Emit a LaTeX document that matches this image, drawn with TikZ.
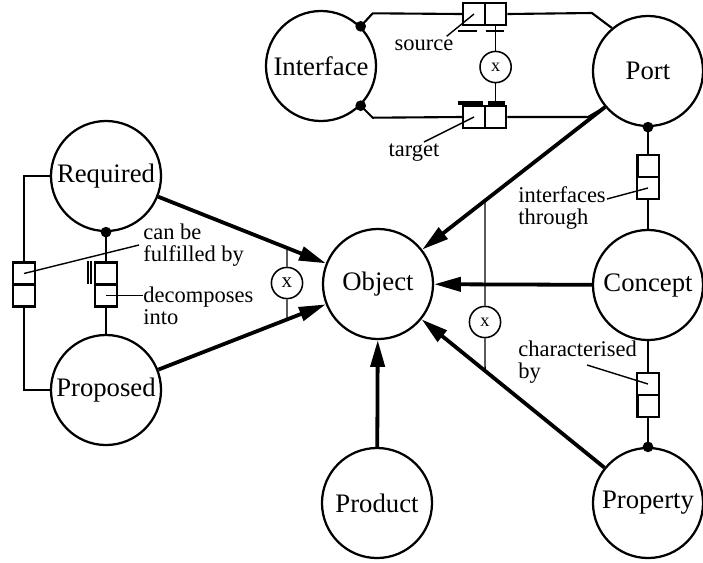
\documentclass[tikz,border=0pt]{standalone}
\usepackage{fontspec}
\setmainfont{Liberation Serif}
\usetikzlibrary{arrows.meta,calc}

\begin{document}
\begin{tikzpicture}[x=0.025cm,y=-0.025cm,
    entity/.style={circle, draw, line width=1.6pt, minimum size=2.75cm, inner sep=0pt, font=\fontsize{19}{20}\selectfont},
    isa/.style={line width=2.7pt, -{Triangle[length=19pt,width=10pt]}},
    rel/.style={line width=1.5pt},
    ptr/.style={line width=1pt},
    relbox/.style={rectangle, draw, line width=1.5pt, minimum width=0.54cm, minimum height=0.55cm, inner sep=0pt},
    excl/.style={circle, draw, line width=1.1pt, minimum size=0.78cm, inner sep=0pt, font=\fontsize{15}{15}\selectfont},
    note/.style={font=\fontsize{16}{15.5}\selectfont, align=left, inner sep=0pt}]
        \useasboundingbox (0,0) rectangle (703,562);

        \node[entity] (Interface) at (321,66) {Interface};
        \node[entity] (Port) at (648,71) {Port};
        \node[entity] (Required) at (106,176) {Required};
        \node[entity] (Proposed) at (106,390) {Proposed};
        \node[entity] (Object) at (378,284) {Object};
        \node[entity] (Concept) at (648,285) {Concept};
        \node[entity] (Product) at (377,503) {Product};
        \node[entity] (Property) at (648,503) {Property};

        \coordinate (ptail) at (Port.220);
        \draw[isa] (Required) -- (Object);
        \draw[isa] (Proposed) -- (Object);
        \draw[isa] (ptail) -- (Object);
        \draw[isa] (Concept) -- (Object);
        \draw[isa] (Property) -- (Object);
        \draw[isa] (Product) -- (Object);

        % source / target between Interface and Port
        \node[relbox] (srcA) at (474,14) {};
        \node[relbox] (srcB) at (495.6,14) {};
        \node[relbox] (tgtA) at (474,117) {};
        \node[relbox] (tgtB) at (495.6,117) {};
        \draw[rel] (Interface.45) -- ++(12,-13) -- (srcA.west);
        \draw[rel] (srcB.east) -- ($(Port.130)+(-20,-15)$) -- (Port.130);
        \draw[rel] (Interface.-45) -- ++(12,12) -- (tgtA.west);
        \draw[rel] (tgtB.east) -- (588,117) -- (ptail);
        \fill (Interface.45) circle[radius=3.8pt];
        \fill (Interface.-45) circle[radius=3.8pt];
        \draw[line width=1.5pt] ($(srcA.south)+(-16,5)$) -- ++(19,0);
        \draw[line width=1.5pt] ($(srcB.south)+(-10,5)$) -- ++(18,0);
        \draw[line width=2.4pt] ($(tgtA.north)+(-16,-2)$) -- ++(25,0);
        \draw[line width=2.4pt] ($(tgtB.north)+(-8,-2)$) -- ++(17,0);
        \node[excl, font=\fontsize{13}{13}\selectfont] (xt) at (495.6,67) {x};
        \draw[ptr] (srcB.south) -- (xt.north);
        \draw[ptr] (xt.south) -- (tgtB.north);
        \node[note] (srclbl) at (424,45) {source};
        \node[note] (tgtlbl) at (414,153) {target};
        \draw[ptr] ($(srclbl.north east)+(-7,-3)$) -- (srcA.center);
        \draw[ptr] ($(tgtlbl.north)+(10,-2)$) -- (tgtA.center);

        % Port -- Concept -- Property
        \node[relbox] (pcA) at (648,166) {};
        \node[relbox] (pcB) at (648,188) {};
        \draw[rel] (Port.south) -- (pcA.north);
        \draw[rel] (pcB.south) -- (Concept.north);
        \fill (Port.south) circle[radius=3.8pt];
        \draw[line width=2.6pt] ($(pcA.north west)+(1.5,0)$) -- ($(pcA.south west)+(1.5,0)$);
        \node[relbox] (cpA) at (648,384) {};
        \node[relbox] (cpB) at (648,406) {};
        \draw[rel] (Concept.south) -- (cpA.north);
        \draw[rel] (cpB.south) -- (Property.north);
        \fill (Property.north) circle[radius=3.8pt];
        \draw[line width=2.6pt] ($(cpB.north west)+(1.5,0)$) -- ($(cpB.south west)+(1.5,0)$);
        \node[note, anchor=west] (ifthru) at (518,208) {interfaces\\through};
        \node[note, anchor=west] (charby) at (518,362) {characterised\\by};
        \draw[ptr] ($(ifthru.east)+(1,-9)$) -- (pcB.center);
        \draw[ptr] ($(charby.west)+(69,3)$) -- (cpA.center);

        % Required -- Proposed
        \node[relbox] (fuA) at (24,273.5) {};
        \node[relbox] (fuB) at (24,295.5) {};
        \draw[rel] (Required.west) -| (fuA.north);
        \draw[rel] (fuB.south) |- (Proposed.west);
        \node[relbox] (dcA) at (106,273.5) {};
        \node[relbox] (dcB) at (106,295.5) {};
        \draw[rel] (Required.south) -- (dcA.north);
        \draw[rel] (dcB.south) -- (Proposed.north);
        \fill (Required.south) circle[radius=3.8pt];
        \draw[line width=1.4pt] ($(dcA.north west)+(-6,0)$) -- ++(0,23);
        \draw[line width=1.4pt] ($(dcA.north west)+(-3,0)$) -- ++(0,23);
        \node[note, anchor=west] (fulfil) at (143,245) {can be\\fulfilled by};
        \node[note, anchor=west] (decomp) at (143,306) {decomposes\\into};
        \draw[ptr] ($(fulfil.west)+(-4,0)$) -- (fuA.center);
        \draw[ptr] (dcB.center) -- (dcB.center -| decomp.west);

        % exclusive arcs
        \node[excl] (xl) at (287,283) {x};
        \node[excl, font=\fontsize{13}{13}\selectfont] (xr) at (485,322) {x};
        \coordinate (xltop) at (287,0);
        \coordinate (xlbot) at (287,600);
        \coordinate (xrtop) at (485,0);
        \coordinate (xrbot) at (485,600);
        \draw[ptr] (xl.north) -- (intersection of Required--Object and xl--xltop);
        \draw[ptr] (xl.south) -- (intersection of Proposed--Object and xl--xlbot);
        \draw[ptr] (xr.north) -- (intersection of ptail--Object and xr--xrtop);
        \draw[ptr] (xr.south) -- (intersection of Property--Object and xr--xrbot);
    \end{tikzpicture}
\end{document}
